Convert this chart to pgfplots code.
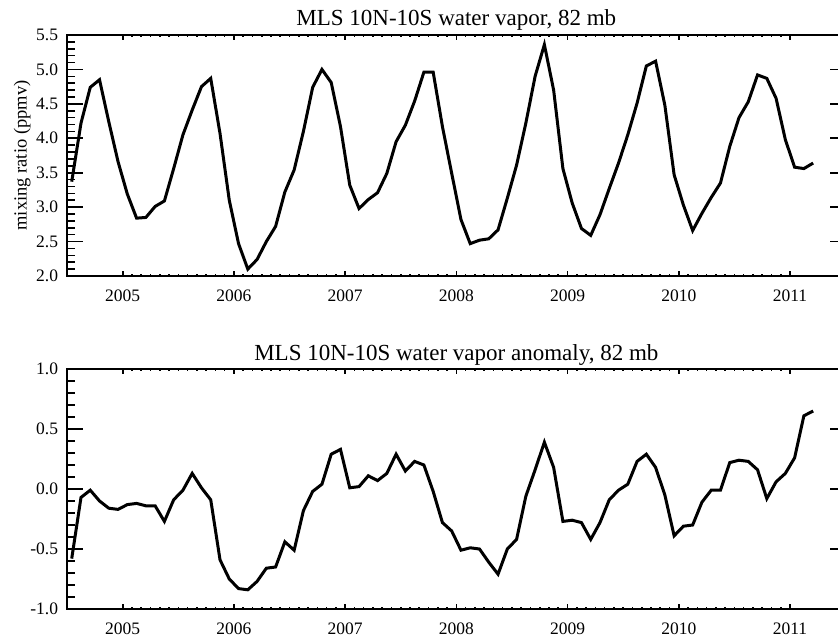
\documentclass[border=0pt]{standalone}
\usepackage{fontspec}
\setmainfont{Liberation Serif}
\usepackage{pgfplots}
\pgfplotsset{compat=1.18}
\usepackage{pgfplotstable}

% monthly means, m = month index counted from Jan 2004 = 1
\pgfplotstableread{
m  h2o   anom
7  3.37  -0.58
8  4.22  -0.07
9  4.74  -0.01
10 4.85  -0.10
11 4.24  -0.16
12 3.66  -0.17
13 3.19  -0.13
14 2.84  -0.12
15 2.85  -0.14
16 3.01  -0.14
17 3.09  -0.27
18 3.56  -0.09
19 4.05  -0.01
20 4.41   0.13
21 4.75   0.01
22 4.87  -0.09
23 4.07  -0.59
24 3.10  -0.75
25 2.47  -0.83
26 2.10  -0.84
27 2.24  -0.77
28 2.50  -0.66
29 2.72  -0.65
30 3.22  -0.44
31 3.54  -0.51
32 4.10  -0.18
33 4.74  -0.02
34 5.00   0.04
35 4.81   0.29
36 4.17   0.33
37 3.32   0.01
38 2.98   0.02
39 3.11   0.11
40 3.21   0.07
41 3.49   0.13
42 3.95   0.29
43 4.19   0.15
44 4.54   0.23
45 4.96   0.20
46 4.96  -0.02
47 4.17  -0.28
48 3.49  -0.35
49 2.82  -0.51
50 2.47  -0.49
51 2.52  -0.50
52 2.54  -0.61
53 2.67  -0.71
54 3.13  -0.50
55 3.61  -0.42
56 4.22  -0.06
57 4.90   0.16
58 5.36   0.39
59 4.70   0.18
60 3.56  -0.27
61 3.06  -0.26
62 2.69  -0.28
63 2.59  -0.42
64 2.89  -0.28
65 3.27  -0.09
66 3.64  -0.01
67 4.05   0.04
68 4.51   0.23
69 5.05   0.29
70 5.12   0.18
71 4.48  -0.05
72 3.47  -0.39
73 3.03  -0.31
74 2.66  -0.30
75 2.91  -0.11
76 3.14  -0.01
77 3.35  -0.01
78 3.88   0.22
79 4.30   0.24
80 4.53   0.23
81 4.92   0.16
82 4.87  -0.08
83 4.58   0.06
84 3.98   0.13
85 3.58   0.26
86 3.56   0.61
87 3.64   0.65
}\mlsdata

\pgfplotsset{
  mlsbase/.style={
    scale only axis, width=389.25pt,
    xmin=2004.5, xmax=2011.5,
    every tick/.style={black, line width=0.8pt},
    /pgf/number format/assume math mode=true,
  },
  % frame, y ticks, title, data
  mls/.style={
    mlsbase, xtick=\empty,
    minor y tick num=4,
    major tick length=7.8pt, minor tick length=3.9pt,
    axis line style={line width=1pt},
    yticklabel style={font=\fontsize{8.75}{10}\selectfont, xshift=-1pt,
      /pgf/number format/.cd, fixed, fixed zerofill, precision=1},
    every axis title shift=0pt,
    title style={at={(axis description cs:0.5,1)}, anchor=base, yshift=4.5pt,
      font=\fontsize{11.5}{13}\selectfont},
  },
  % short x ticks and year labels
  mlsx/.style={
    mlsbase, ytick=\empty,
    xtick={2005,2006,2007,2008,2009,2010,2011},
    minor x tick num=11,
    major tick length=2.4pt, minor tick length=1.2pt,
    axis line style={draw=none},
    xticklabel style={font=\fontsize{8.75}{10}\selectfont, yshift=-3.3pt,
      /pgf/number format/.cd, fixed, precision=0, 1000 sep={}},
  },
}

\begin{document}
\begin{tikzpicture}
\useasboundingbox (-33.55pt,-179.5pt) rectangle (385.45pt,138pt);

\begin{axis}[mls, at={(0,0)}, anchor=south west, height=120.5pt,
    ymin=2, ymax=5.5, ytick={2,2.5,3,3.5,4,4.5,5,5.5},
    title={MLS 10N-10S water vapor, 82 mb},
    ylabel={mixing ratio (ppmv)},
    ylabel style={at={(axis description cs:-0.0578,0.5)}, anchor=center,
      font=\fontsize{9.25}{11}\selectfont}]
\addplot[black, line width=1.5pt] table[x expr=2004+(\thisrow{m}-0.5)/12, y=h2o] {\mlsdata};
\end{axis}
\begin{axis}[mlsx, at={(0,0)}, anchor=south west, height=120.5pt, ymin=2, ymax=5.5]
\end{axis}

\begin{axis}[mls, at={(0,-166.5pt)}, anchor=south west, height=120pt,
    ymin=-1, ymax=1, ytick={-1,-0.5,0,0.5,1},
    title={MLS 10N-10S water vapor anomaly, 82 mb}]
\addplot[black, line width=1.5pt] table[x expr=2004+(\thisrow{m}-0.5)/12, y=anom] {\mlsdata};
\end{axis}
\begin{axis}[mlsx, at={(0,-166.5pt)}, anchor=south west, height=120pt, ymin=-1, ymax=1]
\end{axis}
\end{tikzpicture}
\end{document}
